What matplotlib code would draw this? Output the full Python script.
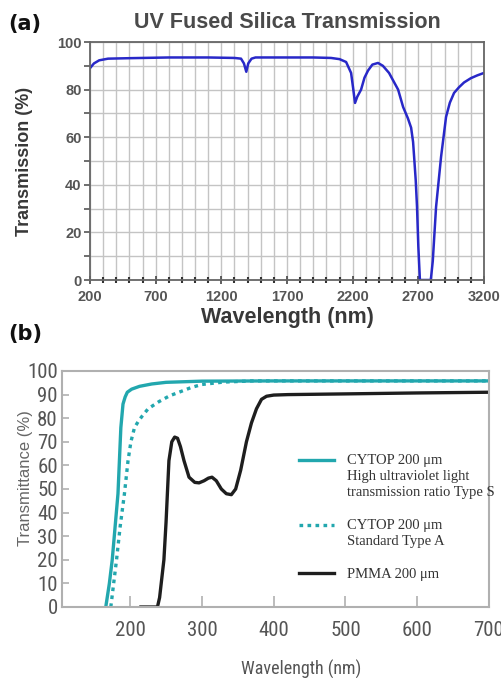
import numpy as np
import matplotlib
matplotlib.use("Agg")
import matplotlib.pyplot as plt
from matplotlib import font_manager
from matplotlib.ticker import MultipleLocator
from matplotlib.legend_handler import HandlerLine2D

# (a) UV fused silica transmission
silica_wl = [200, 230, 270, 337, 500, 800, 1100, 1300, 1350, 1372,
             1390, 1405, 1430, 1460, 1600, 1900, 2035, 2100, 2150, 2188,
             2205, 2218, 2235, 2264, 2290, 2317, 2350, 2393, 2430, 2477,
             2546, 2584, 2620, 2645, 2660, 2668, 2680, 2690, 2700, 2712,
             2795, 2810, 2835, 2873, 2911, 2940, 2972, 3010, 3048, 3100,
             3150, 3200]
silica_T = [89, 91, 92.3, 93, 93.2, 93.5, 93.5, 93.3, 93, 91,
            87.5, 91, 93, 93.5, 93.5, 93.5, 93.3, 92.8, 91.6, 87,
            80, 74.4, 77, 80, 85, 88, 90.5, 91.2, 90, 87,
            80, 72.7, 68, 64, 58, 51.7, 42, 30.7, 14, 0,
            0, 8, 30.7, 51.7, 68.5, 74.5, 78.6, 81, 83, 84.8,
            86, 87]
silica_xticks = [200, 700, 1200, 1700, 2200, 2700, 3200]

# (b) CYTOP / PMMA transmittance
cytop_s_wl = [166, 171, 175, 179, 183, 187, 190, 193, 196, 202, 213, 230, 250, 300, 400, 700]
cytop_s_T = [0, 10, 20, 34, 48, 76, 86, 89, 91, 92.3, 93.5, 94.5, 95.2, 95.7, 95.8, 95.8]

cytop_a_wl = [173, 177, 181, 186, 192, 197, 201, 206, 212, 217, 225, 240, 255, 268, 285, 300, 330, 370, 700]
cytop_a_T = [0, 10, 20, 34, 48, 62, 70, 76, 79, 81, 84, 87, 89.5, 91, 93, 94.3, 95.3, 95.8, 95.8]

pmma_wl = [215, 238, 241, 244, 247, 250, 254, 258, 262, 266, 270, 275, 282, 290, 296, 303,
           309, 314, 320, 327, 334, 341, 347, 354, 362, 369, 376, 383, 390, 400, 420, 500, 600, 700]
pmma_T = [0, 0, 4, 12, 20, 36, 62, 70, 72, 71.5, 68, 62, 55, 52.8, 52.6, 53.5,
          54.6, 55, 53.5, 50, 48, 47.6, 50, 58, 70, 78, 84, 88, 89.3, 89.8, 90, 90.3, 90.7, 91]

legend_labels = ["CYTOP 200 \u03bcm\nHigh ultraviolet light\ntransmission ratio Type S",
                 "CYTOP 200 \u03bcm\nStandard Type A",
                 "PMMA 200 \u03bcm"]


def pick_font(names):
    for n in names:
        try:
            font_manager.findfont(font_manager.FontProperties(family=n),
                                  fallback_to_default=False)
            return n
        except Exception:
            pass
    return None


narrow_name = pick_font(["Liberation Sans Narrow", "Roboto Condensed",
                         "Open Sans Condensed", "DejaVu Sans Condensed"])
if narrow_name:
    narrow = {"fontfamily": narrow_name}
    narrow_tick = 15
else:
    narrow = {"fontfamily": "DejaVu Sans", "fontstretch": "condensed"}
    narrow_tick = 13.5

teal = "#22a7ae"
sans = ["Liberation Sans", "DejaVu Sans"]
serif = ["Liberation Serif", "DejaVu Serif"]
LINE_GAP = 11.9  # legend line gap, points


class TopLine(HandlerLine2D):
    # put the legend key next to the first line of a multi-line label
    def __init__(self, nlines, **kw):
        super().__init__(**kw)
        self.nlines = nlines

    def create_artists(self, legend, orig_handle, xdescent, ydescent,
                       width, height, fontsize, trans):
        arts = super().create_artists(legend, orig_handle, xdescent, ydescent,
                                      width, height, fontsize, trans)
        for a in arts:
            a.set_ydata(np.asarray(a.get_ydata(), float)
                        + (self.nlines - 1) / 2 * LINE_GAP)
        return arts


fig = plt.figure(figsize=(5.01, 6.78), dpi=100)

# ---------- panel (a) ----------
ax1 = fig.add_axes([90 / 501, 1 - 280 / 678, 394 / 501, 238 / 678])
ax1.plot(silica_wl, silica_T, color="#2828c8", lw=1.8)
ax1.set_xlim(200, 3200)
ax1.set_ylim(0, 100)
ax1.set_xticks(silica_xticks)
ax1.xaxis.set_minor_locator(MultipleLocator(100))
ax1.yaxis.set_major_locator(MultipleLocator(20))
ax1.yaxis.set_minor_locator(MultipleLocator(10))
ax1.grid(which="both", color="#c4c4c4", lw=1.0)
ax1.set_axisbelow(True)
for s in ax1.spines.values():
    s.set_color("#666666")
    s.set_linewidth(1.3)
ax1.tick_params(axis="x", which="major", direction="inout", length=6, width=1.2,
                color="#444444", pad=4)
ax1.tick_params(axis="x", which="minor", direction="inout", length=4, width=1.5,
                color="#333333")
ax1.tick_params(axis="y", which="both", direction="out", length=4, width=1.2,
                color="#555555", pad=2)
for lab in ax1.get_xticklabels() + ax1.get_yticklabels():
    lab.set_fontfamily(sans)
    lab.set_fontweight("bold")
    lab.set_fontsize(10.5)
    lab.set_color("#555555")
ax1.set_xlabel("Wavelength (nm)", fontfamily=sans, fontweight="bold",
               fontsize=15.5, color="#383838", va="top")
ax1.xaxis.set_label_coords(0.501, -0.113)
ax1.set_ylabel("Transmission (%)", fontfamily=sans, fontweight="bold",
               fontsize=13, color="#383838")
ax1.yaxis.set_label_coords(-0.145, 0.5)
fig.text(287 / 501, 1 - 22 / 678, "UV Fused Silica Transmission", ha="center",
         va="center", fontfamily=sans, fontweight="bold", fontsize=15.5,
         color="#4a4a4a")
fig.text(8 / 501, 1 - 24 / 678, "(a)", ha="left", va="center",
         fontweight="bold", fontsize=15, color="#111111")

# ---------- panel (b) ----------
ax2 = fig.add_axes([62 / 501, 1 - 607 / 678, 427 / 501, 236 / 678])
l1, = ax2.plot(cytop_s_wl, cytop_s_T, color=teal, lw=2.4)
l2, = ax2.plot(cytop_a_wl, cytop_a_T, color=teal, lw=2.4, linestyle=(0, (1.1, 1.3)))
l3, = ax2.plot(pmma_wl, pmma_T, color="#1e1e1e", lw=2.4)
ax2.set_xlim(105, 700)
ax2.set_ylim(0, 100)
ax2.set_xticks([200, 300, 400, 500, 600, 700])
ax2.set_yticks(np.arange(0, 101, 10))
for s in ax2.spines.values():
    s.set_color("#b0b0b0")
    s.set_linewidth(1.5)
ax2.tick_params(axis="x", direction="in", length=8, width=1.2, color="#b0b0b0",
                pad=10, labelsize=narrow_tick, labelcolor="#555555")
ax2.tick_params(axis="y", direction="in", length=5, width=1.2, color="#b0b0b0",
                pad=3, labelsize=narrow_tick, labelcolor="#555555")
for lab in ax2.get_xticklabels() + ax2.get_yticklabels():
    lab.set(**narrow)
ax2.set_xlabel("Wavelength (nm)", fontsize=13 if narrow_name else 11.5,
               color="#555555", va="top", **narrow)
ax2.xaxis.set_label_coords(0.56, -0.225)
ax2.set_ylabel("Transmittance (%)", fontfamily=sans, fontsize=12,
               color="#666666")
ax2.yaxis.set_label_coords(-0.068, 0.547)

nlines = [lab.count("\n") + 1 for lab in legend_labels]
leg = ax2.legend([l1, l2, l3], legend_labels, loc="upper left",
                 bbox_to_anchor=(0.555, 0.647), frameon=False,
                 prop={"family": serif, "size": 10.5}, handlelength=2.4,
                 handletextpad=0.9, labelspacing=1.35, borderpad=0,
                 borderaxespad=0,
                 handler_map={l1: TopLine(nlines[0]), l2: TopLine(nlines[1]),
                              l3: TopLine(nlines[2])})
for t in leg.get_texts():
    t.set_color("#333333")
    t.set_linespacing(1.3)

fig.text(8 / 501, 1 - 334 / 678, "(b)", ha="left", va="center",
         fontweight="bold", fontsize=15, color="#111111")

fig.savefig("out.png", dpi=100)
